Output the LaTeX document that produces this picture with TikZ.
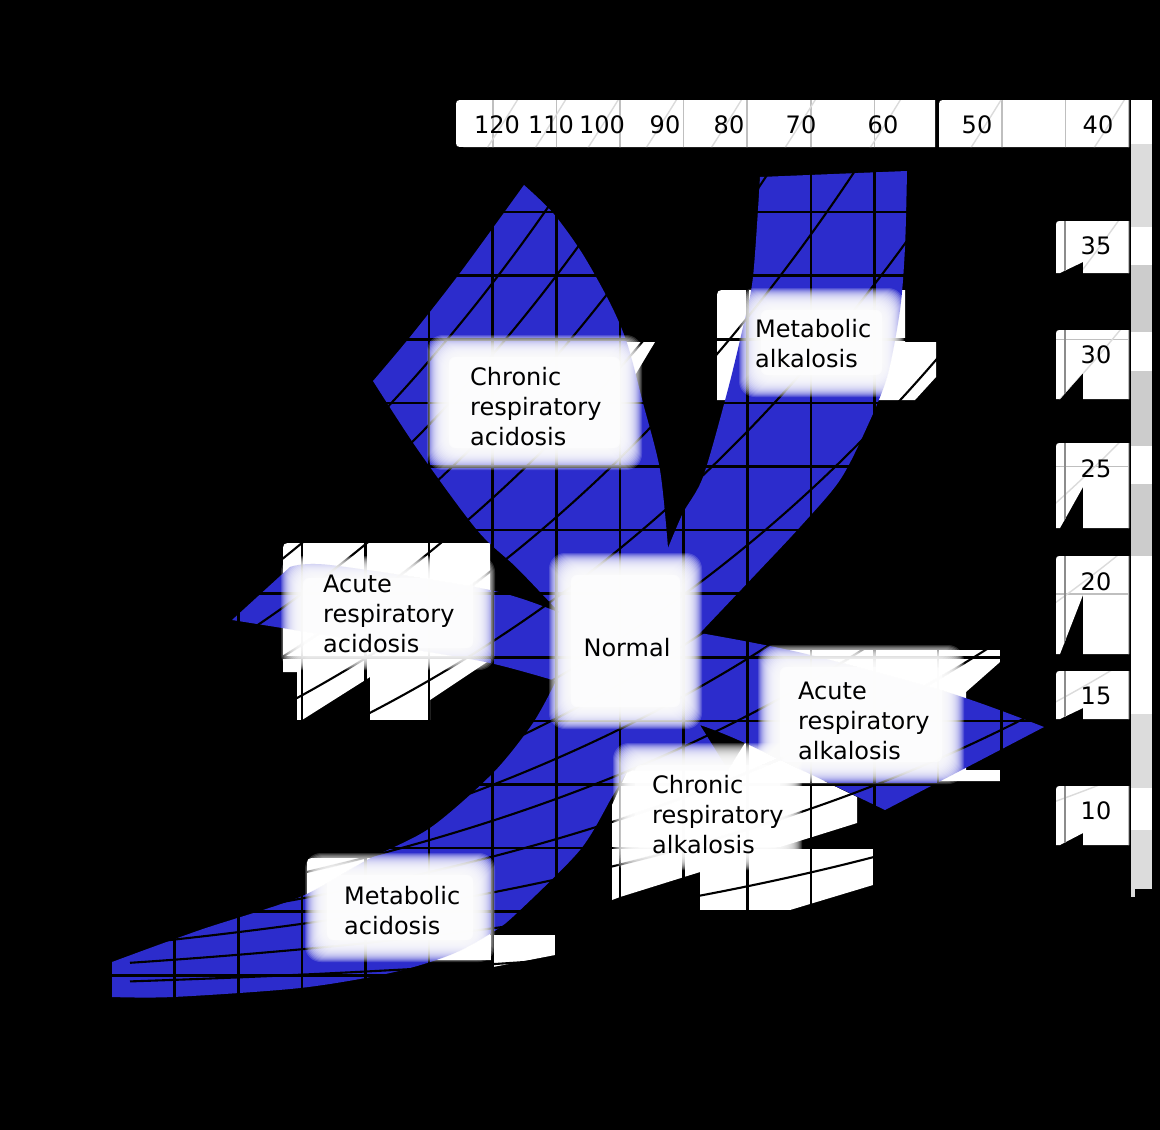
\documentclass[tikz,border=0pt]{standalone}
\usepackage{fontspec}
\setmainfont{DejaVu Sans}
\definecolor{bandblue}{RGB}{44,44,204}
\definecolor{stripgray}{RGB}{204,204,204}
\definecolor{striplight}{RGB}{220,220,220}
\tikzset{
  gridline/.style={line width=2.6pt, black},
  isoline/.style={line width=2.1pt, black},
  faintgrid/.style={line width=1.6pt, black!25},
  faintiso/.style={line width=1.4pt, black!14},
  hardpatch/.style={fill=white},
  axisnum/.style={font=\fontsize{24}{30}\selectfont, inner sep=0pt, anchor=base},
  regionlabel/.style={font=\fontsize{24}{30}\selectfont, align=left, inner sep=0pt, anchor=north west},
}
\newcommand\drawchartlines[2]{%
  \foreach \k in {0,...,16}{\draw[#1] ({111+63.625*\k},100) -- ({111+63.625*\k},1000);}%
  \foreach \j in {0,...,13}{\draw[#1] (111,{148.5+63.6*\j}) -- (1129,{148.5+63.6*\j});}%
  \foreach \pc in {5,10,15,20,25,30,35,40,50,60,70,80,90,100,110,120}{%
    \pgfmathsetmacro\xend{min(1129,111+552.4*ln(1000/(3.594*\pc)))}%
    \draw[#2] plot[domain=130:\xend, samples=100, smooth] (\x,{1000-3.594*\pc*exp((\x-111)/552.4)});%
  }%
}
\newcommand\glowrect[4]{%
  \foreach \k in {0,...,21}{%
    \fill[white, fill opacity=0.17, rounded corners=16pt] ({#1+\k},{#2+\k}) rectangle ({#3-\k},{#4-\k});%
  }%
  \fill[white, fill opacity=0.6, rounded corners=6pt] ({#1+22},{#2+22}) rectangle ({#3-22},{#4-22});%
}
\newcommand\rboxpath[3]{(1129,#1) -- (1063,#1) .. controls (1056,#1) .. (1056,{#1+7}) -- (1056,#2) -- (1060,#2) -- (1083,#3) -- (1083,#2) -- (1129,#2) -- cycle}
\newcommand\topboxpath{(935,100) -- (464,100) .. controls (456,100) .. (456,108) -- (456,139) .. controls (456,147) .. (464,147) -- (935,147) -- cycle
  (1129,100) -- (947,100) .. controls (939,100) .. (939,108) -- (939,147) -- (1129,147) -- cycle}
\newcommand\allboxpaths{\topboxpath \rboxpath{221}{273}{262} \rboxpath{330}{399}{373} \rboxpath{443}{528}{487} \rboxpath{556}{654}{595} \rboxpath{671}{719}{708} \rboxpath{786}{845}{833}}
\begin{document}
\begin{tikzpicture}[x=1pt,y=-1pt]
\useasboundingbox (0,0) rectangle (1160,1130);
\fill[black] (0,0) rectangle (1160,1130);

% hard white patches behind the band
\fill[hardpatch] (283,553) .. controls (283,543) .. (293,543) -- (490,543) -- (490,660) -- (430,700) -- (430,720) -- (370,720) -- (370,677) -- (302,720) -- (297,720) -- (297,672) -- (283,672) -- cycle;
\fill[hardpatch] (717,300) .. controls (717,290) .. (727,290) -- (905,290) -- (905,342) -- (936,342) -- (936,377) -- (915,400) -- (717,400) -- cycle;
\fill[hardpatch] (430,342) -- (655,342) -- (581,465) -- (430,465) -- cycle;
\fill[hardpatch] (307,868) .. controls (307,858) .. (317,858) -- (490,858) -- (490,935) -- (555,935) -- (555,955) -- (493,967) -- (493,960) -- (307,960) -- cycle;
\fill[hardpatch] (748,650) -- (1000,650) -- (1000,662) -- (966,692) -- (966,770) -- (1000,770) -- (1000,781) -- (748,781) -- cycle;
\fill[hardpatch] (612,900) -- (612,805) -- (628,770) -- (728,770) -- (745,743) -- (857,797) -- (857,823) -- (620,897) -- cycle;
\fill[hardpatch] (700,848) -- (873,848) -- (873,885) -- (790,910) -- (700,910) -- cycle;

% blue band
\begin{scope}
\clip (111,100) rectangle (1129,1000);
\fill[bandblue]
  plot[smooth] coordinates {(112,962) (200,930) (300,897) (367,860) (430,828) (493,773) (533,723) (556,681)}
  -- plot[smooth] coordinates {(556,681) (490,663) (400,647) (232,620)}
  -- (290,567)
  -- plot[smooth] coordinates {(290,567) (330,565) (490,590) (560,613)}
  -- plot[smooth] coordinates {(560,613) (517,568) (477,530) (418,450) (373,381)}
  -- plot[smooth] coordinates {(373,381) (410,337) (460,273) (524,185)}
  -- plot[smooth] coordinates {(524,185) (553,213) (582,253) (610,303) (627,343) (643,403) (660,470) (668,548)}
  -- plot[smooth] coordinates {(668,548) (683,513) (703,477) (727,393) (743,327) (753,277) (760,177)}
  -- (907,171)
  -- plot[smooth] coordinates {(907,171) (905,247) (900,310) (887,377) (867,427) (840,480) (800,527) (755,575) (700,633)}
  -- plot[smooth] coordinates {(700,633) (802,653) (950,693) (1044,727)}
  -- (885,810)
  -- plot[smooth] coordinates {(885,810) (745,743) (700,725)}
  -- (728,770) -- (628,770)
  -- plot[smooth] coordinates {(628,770) (612,797) (580,850) (517,913) (493,932) (450,955) (390,973) (300,988) (173,997) (112,997)}
  -- cycle;
\end{scope}

% grid and pCO2 isopleths
\begin{scope}
\clip (111,100) rectangle (1129,1000);
\drawchartlines{gridline}{isoline}
\end{scope}

% soft label backgrounds
\glowrect{427}{335}{642}{470}
\glowrect{739}{288}{904}{397}
\glowrect{281}{556}{495}{670}
\glowrect{549}{553}{702}{729}
\glowrect{758}{645}{964}{784}
\glowrect{613}{743}{802}{870}
\glowrect{305}{853}{495}{962}

% axis boxes
\fill[white] \allboxpaths;
\begin{scope}
\clip \allboxpaths;
\drawchartlines{faintgrid}{faintiso}
\draw[line width=1.6pt, black!45] (1065,200) -- (1065,860);
\end{scope}

% right strip
\fill[white] (1131,100) rectangle (1152,144);
\fill[striplight] (1131,144) rectangle (1152,227);
\fill[white] (1131,227) rectangle (1152,265);
\fill[stripgray] (1131,265) rectangle (1152,332);
\fill[white] (1131,332) rectangle (1152,371);
\fill[stripgray] (1131,371) rectangle (1152,446);
\fill[white] (1131,446) rectangle (1152,484);
\fill[stripgray] (1131,484) rectangle (1152,556);
\fill[white] (1131,556) rectangle (1152,714);
\fill[striplight] (1131,714) rectangle (1152,788);
\fill[white] (1131,788) rectangle (1152,830);
\fill[striplight] (1131,830) rectangle (1152,889);
\fill[striplight] (1131,889) rectangle (1135,897);

% axis numbers
\node[axisnum] (t120) at (497,133) {120};
\node[axisnum] (t110) at (551,133) {110};
\node[axisnum] (t100) at (602,133) {100};
\node[axisnum] (t90) at (665,133) {90};
\node[axisnum] (t80) at (729,133) {80};
\node[axisnum] (t70) at (801,133) {70};
\node[axisnum] (t60) at (883,133) {60};
\node[axisnum] (t50) at (977,133) {50};
\node[axisnum] (t40) at (1098,133) {40};
\node[axisnum] (r35) at (1096,254) {35};
\node[axisnum] (r30) at (1096,363) {30};
\node[axisnum] (r25) at (1096,477) {25};
\node[axisnum] (r20) at (1096,590) {20};
\node[axisnum] (r15) at (1096,704) {15};
\node[axisnum] (r10) at (1096,819) {10};

% region labels
\node[regionlabel] (cracid) at (470,366.8) {Chronic\\respiratory\\acidosis};
\node[regionlabel] (malk) at (755,318.8) {Metabolic\\alkalosis};
\node[regionlabel] (aracid) at (323,574.5) {Acute\\respiratory\\acidosis};
\node[axisnum] (normal) at (627,656) {Normal};
\node[regionlabel] (aralk) at (798,681.5) {Acute\\respiratory\\alkalosis};
\node[regionlabel] (cralk) at (652,774.8) {Chronic\\respiratory\\alkalosis};
\node[regionlabel] (macid) at (344,885.8) {Metabolic\\acidosis};
\end{tikzpicture}
\end{document}
